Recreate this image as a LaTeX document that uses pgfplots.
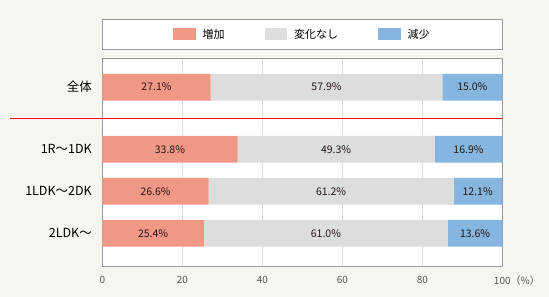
\documentclass[border=0pt]{standalone}
\usepackage{fontspec}
\setmainfont{Noto Sans CJK JP}
\usepackage{pgfplots}
\usepackage{pgfplotstable}
\pgfplotsset{compat=1.18}
\definecolor{bg}{HTML}{F6F5EF}
\definecolor{inc}{HTML}{F09886}
\definecolor{same}{HTML}{DCDDDD}
\definecolor{dec}{HTML}{86B5DF}
\definecolor{gridgray}{HTML}{DCDCDC}
\definecolor{axisgray}{HTML}{9A9A9A}
\definecolor{ticktext}{HTML}{555555}
\definecolor{labeltext}{HTML}{231815}

\pgfplotstableread{
pos inc same dec
3.48 27.1 57.9 15.0
2 33.8 49.3 16.9
1 26.6 61.2 12.1
0 25.4 61.0 13.6
}\datatable

\pgfplotsset{mybase/.style={width=400bp, height=208.4bp, scale only axis,
  at={(102.3bp,30.3bp)}, anchor=south west,
  xmin=0, xmax=100, ymin=-0.795, ymax=4.167},
  seglabel/.style={draw=none, mark=none,
    nodes near coords={\pgfmathprintnumber[fixed,fixed zerofill,precision=1,assume math mode=true]{\pgfplotspointmeta}\%},
    nodes near coords align=center,
    every node near coord/.append style={font=\fontsize{10.5bp}{12bp}\selectfont, text=labeltext, anchor=center},
    point meta=explicit}}

\begin{document}
\begin{tikzpicture}
\fill[bg] (0,0) rectangle (549bp,297bp);
\draw[axisgray, line width=1bp, fill=white] (102.3bp,247.7bp) rectangle (502.3bp,277.7bp);
\begin{axis}[mybase,
  xbar stacked, bar width=26.7bp,
  clip=false,
  axis background/.style={fill=white},
  axis line style={draw=axisgray, line width=1bp},
  xmajorgrids, major grid style={draw=gridgray, line width=1bp},
  major tick length=0pt,
  /pgf/number format/assume math mode=true,
  xtick={0,20,40,60,80,100},
  xticklabels={0,20,40,60,80,100\rlap{（\%）}},
  xticklabel style={font=\fontsize{10bp}{12bp}\selectfont, text=ticktext, yshift=-6bp},
  ytick={0,1,2,3.48},
  yticklabels={2LDK〜,1LDK〜2DK,1R〜1DK,全体},
  yticklabel style={font=\fontsize{12.5bp}{14bp}\selectfont, text=black, xshift=-7bp},
  legend style={draw=none, fill=none, at={(0.5,1.1152)}, anchor=center,
    font=\fontsize{11bp}{13bp}\selectfont,
    /tikz/every even column/.append style={column sep=38bp}},
  legend columns=3,
]
\addplot[fill=inc, draw=none,
  legend image code/.code={\fill[inc] (0bp,-5.85bp) rectangle (22.7bp,5.85bp); \path (0bp,0bp) -- (27.5bp,0bp);}]
  table[x=inc, y=pos]{\datatable};
\addplot[fill=same, draw=none,
  legend image code/.code={\fill[same] (0bp,-5.85bp) rectangle (22.7bp,5.85bp); \path (0bp,0bp) -- (27.5bp,0bp);}]
  table[x=same, y=pos]{\datatable};
\addplot[fill=dec, draw=none,
  legend image code/.code={\fill[dec] (0bp,-5.85bp) rectangle (22.7bp,5.85bp); \path (0bp,0bp) -- (27.5bp,0bp);}]
  table[x=dec, y=pos]{\datatable};
\legend{増加,変化なし,減少}
\draw[red, line width=1bp] ([xshift=-92.3bp]axis cs:0,2.745) -- (axis cs:100,2.745);
\end{axis}
\begin{axis}[mybase, hide axis, clip=false]
\addplot[seglabel] table[x expr=\thisrow{inc}/2, y=pos, meta=inc]{\datatable};
\addplot[seglabel] table[x expr=\thisrow{inc}+\thisrow{same}/2, y=pos, meta=same]{\datatable};
\addplot[seglabel] table[x expr=\thisrow{inc}+\thisrow{same}+\thisrow{dec}/2, y=pos, meta=dec]{\datatable};
\end{axis}
\end{tikzpicture}
\end{document}
